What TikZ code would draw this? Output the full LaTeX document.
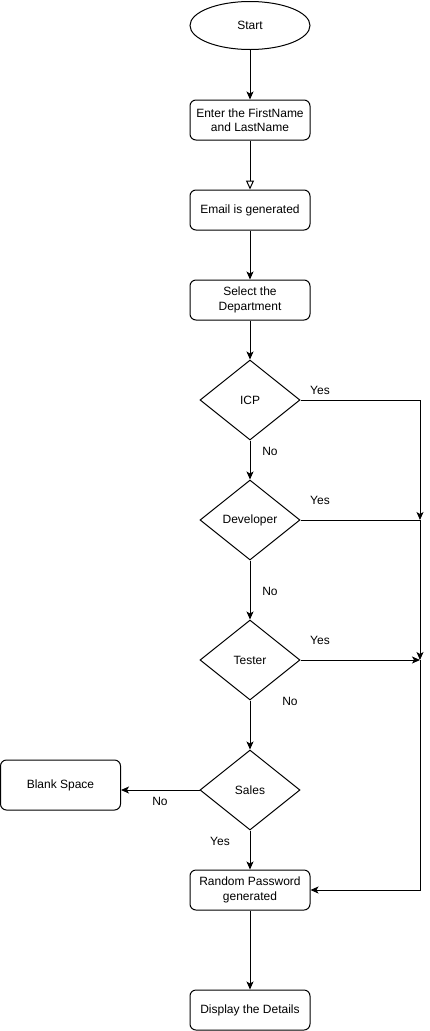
\documentclass[tikz,border=0pt]{standalone}
\usepackage{fontspec}
\setmainfont{Liberation Sans}
\usetikzlibrary{shapes.geometric,arrows.meta}
\begin{document}
\begin{tikzpicture}[x=1pt,y=-1pt,
  font=\fontsize{12pt}{14.5pt}\selectfont,
  every node/.style={inner sep=0pt},
  procbox/.style={draw, line width=1pt, rounded corners=6pt, fill=white,
    minimum width=120pt, minimum height=40pt, align=center},
  startshape/.style={draw, line width=1pt, ellipse, fill=white,
    minimum width=120pt, minimum height=48pt},
  decision/.style={draw, line width=1pt, diamond, fill=white,
    minimum width=100pt, minimum height=80pt, aspect=1.25},
  lbl/.style={font=\fontsize{12pt}{14pt}\selectfont},
  conn/.style={line width=1pt, -{Stealth[length=8pt,width=7pt,inset=2pt]}},
  openconn/.style={line width=1pt, -{Triangle[open,length=9pt,width=8pt]}},
  plain/.style={line width=1pt}]
  \useasboundingbox (0,0) rectangle (429,1031);

  % main flow
  \node[startshape] (start) at (250,25.5) {Start};
  \node[procbox] (name) at (250,120) {Enter the FirstName\\and LastName};
  \node[procbox] (email) at (250,210) {Email is generated};
  \node[procbox] (dept) at (250,300) {Select the\\Department};
  \node[decision] (icp) at (250,400) {ICP};
  \node[decision] (dev) at (250,520) {Developer};
  \node[decision] (tes) at (250,660) {Tester};
  \node[decision] (sal) at (250,790) {Sales};
  \node[procbox, minimum height=50pt] (blank) at (60.5,785) {Blank Space};
  \node[procbox] (pwd) at (250,890) {Random Password\\generated};
  \node[procbox] (disp) at (250,1010) {Display the Details};

  % junction points on the right-hand return line
  \coordinate (j1) at (420,520);
  \coordinate (j2) at (420,660);

  % connectors
  \draw[conn] (start) -- (name);
  \draw[openconn] (name) -- (email);
  \draw[conn] (email) -- (dept);
  \draw[conn] (dept) -- (icp);
  \draw[conn] (icp) -- (dev);
  \draw[conn] (dev) -- (tes);
  \draw[conn] (tes) -- (sal);
  \draw[conn] (sal) -- (sal.west -| blank.east);
  \draw[conn] (sal) -- (pwd);
  \draw[conn] (pwd) -- (disp);
  \draw[conn] (icp.east) -| (j1);
  \draw[conn] (dev.east) -- (j1) -- (j2);
  \draw[conn] (tes.east) -- (j2);
  \draw[conn] (j2) |- (pwd.east);

  % branch labels
  \node[lbl] (yicp) at (320,390) {Yes};
  \node[lbl] (nicp) at (270,451) {No};
  \node[lbl] (ydev) at (320,500) {Yes};
  \node[lbl] (ndev) at (270,591) {No};
  \node[lbl] (ytes) at (320,640) {Yes};
  \node[lbl] (ntes) at (290,701) {No};
  \node[lbl] (nsal) at (160,801) {No};
  \node[lbl] (ysal) at (220,841) {Yes};
\end{tikzpicture}
\end{document}
